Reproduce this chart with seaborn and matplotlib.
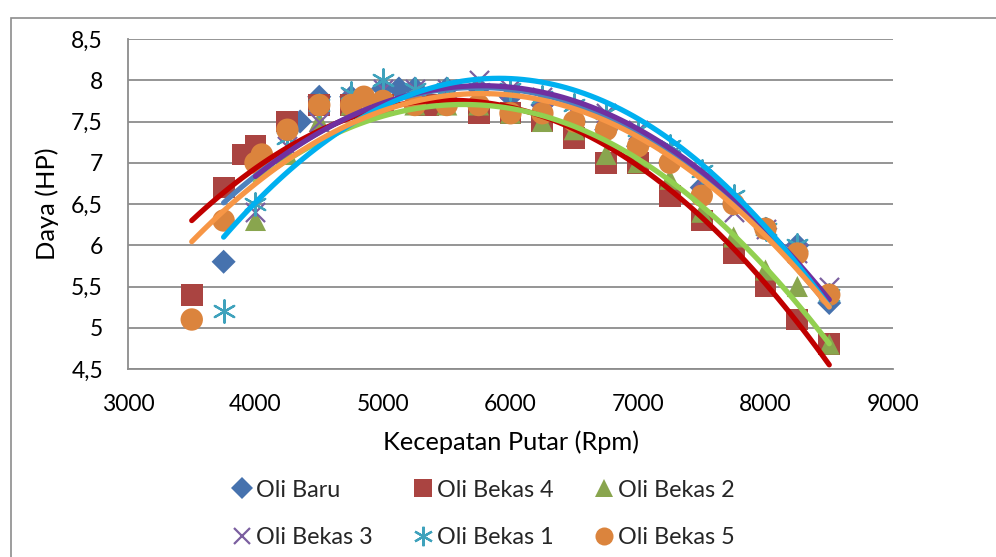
import numpy as np
import pandas as pd
import seaborn as sns
import matplotlib
matplotlib.use("Agg")
import matplotlib.pyplot as plt
from matplotlib.patches import Rectangle
from matplotlib.lines import Line2D

# Engine power (HP) against engine speed (rpm) for each oil condition
baru_rpm = [3750, 4350, 4500, 4750, 5000, 5125, 5250, 5500, 5750, 6000, 6250, 6500,
            6750, 7000, 7250, 7500, 7750, 8000, 8250, 8500]
baru_hp = [5.8, 7.5, 7.8, 7.8, 7.9, 7.9, 7.9, 7.9, 7.9, 7.8, 7.7, 7.5,
           7.4, 7.2, 7.0, 6.7, 6.5, 6.2, 6.0, 5.3]

bekas4_rpm = [3500, 3750, 3900, 4000, 4250, 4500, 4750, 5000, 5350, 5750, 6000, 6250,
              6500, 6750, 7000, 7250, 7500, 7750, 8000, 8250, 8500]
bekas4_hp = [5.4, 6.7, 7.1, 7.2, 7.5, 7.7, 7.7, 7.7, 7.7, 7.6, 7.6, 7.5,
             7.3, 7.0, 7.0, 6.6, 6.3, 5.9, 5.5, 5.1, 4.8]

bekas2_rpm = [4000, 4250, 4500, 4750, 5000, 5250, 5500, 5750, 6000, 6250, 6500, 6750,
              7000, 7250, 7500, 7750, 8000, 8250, 8500]
bekas2_hp = [6.3, 7.1, 7.5, 7.7, 7.7, 7.7, 7.7, 7.7, 7.6, 7.5, 7.4, 7.1,
             7.0, 6.8, 6.4, 6.1, 5.7, 5.5, 4.8]

bekas3_rpm = [4000, 4250, 4500, 4750, 5000, 5250, 5500, 5750, 6000, 6250, 6500, 6750,
              7000, 7250, 7500, 7750, 8000, 8250, 8500]
bekas3_hp = [6.4, 7.2, 7.5, 7.8, 7.9, 7.9, 7.9, 8.0, 7.9, 7.8, 7.6, 7.6,
             7.4, 7.1, 6.8, 6.4, 6.2, 5.9, 5.5]

bekas1_rpm = [3750, 4000, 4250, 4500, 4750, 5000, 5250, 5500, 5750, 6000, 6250, 6500,
              6750, 7000, 7250, 7500, 7750, 8000, 8250, 8500]
bekas1_hp = [5.2, 6.5, 7.3, 7.7, 7.85, 8.0, 7.9, 7.9, 7.9, 7.9, 7.8, 7.7,
             7.6, 7.4, 7.2, 6.9, 6.6, 6.2, 6.0, 5.4]

bekas5_rpm = [3500, 3750, 4000, 4050, 4250, 4500, 4750, 4850, 5000, 5250, 5500, 5750,
              6000, 6250, 6500, 6750, 7000, 7250, 7500, 7750, 8000, 8250, 8500]
bekas5_hp = [5.1, 6.3, 7.0, 7.1, 7.4, 7.7, 7.7, 7.8, 7.75, 7.7, 7.7, 7.7,
             7.6, 7.6, 7.5, 7.4, 7.2, 7.0, 6.6, 6.5, 6.2, 5.9, 5.4]

series_names = ["Oli Baru", "Oli Bekas 4", "Oli Bekas 2", "Oli Bekas 3", "Oli Bekas 1", "Oli Bekas 5"]
series_rpm = [baru_rpm, bekas4_rpm, bekas2_rpm, bekas3_rpm, bekas1_rpm, bekas5_rpm]
series_hp = [baru_hp, bekas4_hp, bekas2_hp, bekas3_hp, bekas1_hp, bekas5_hp]

x_ticks = [3000, 4000, 5000, 6000, 7000, 8000, 9000]
y_ticks = [4.5, 5, 5.5, 6, 6.5, 7, 7.5, 8, 8.5]
y_tick_labels = ["4,5", "5", "5,5", "6", "6,5", "7", "7,5", "8", "8,5"]

marker_style = {
    "Oli Baru":    dict(marker="D", color="#4672AE", s=150, lw=0),
    "Oli Bekas 4": dict(marker="s", color="#AA4441", s=250, lw=0),
    "Oli Bekas 2": dict(marker="^", color="#89A54E", s=230, lw=0),
    "Oli Bekas 3": dict(marker="x", color="#7B5FA0", s=190, lw=1.6),
    "Oli Bekas 1": dict(marker=(6, 2, 0), color="#3FA2BC", s=260, lw=1.6),
    "Oli Bekas 5": dict(marker="o", color="#DB843D", s=260, lw=0),
}
trend_color = {
    "Oli Baru": "#4F81BD",
    "Oli Bekas 4": "#C00000",
    "Oli Bekas 2": "#92D050",
    "Oli Bekas 3": "#7030A0",
    "Oli Bekas 1": "#00B0F0",
    "Oli Bekas 5": "#F79646",
}
trend_order = ["Oli Baru", "Oli Bekas 4", "Oli Bekas 2", "Oli Bekas 3", "Oli Bekas 1", "Oli Bekas 5"]

df = pd.concat(
    [pd.DataFrame({"rpm": r, "hp": h, "oli": n}) for n, r, h in zip(series_names, series_rpm, series_hp)],
    ignore_index=True,
)

sns.set_theme(style="white")
plt.rcParams["font.family"] = ["Lato", "DejaVu Sans"]

fig = plt.figure(figsize=(9.96, 5.57), dpi=100)
ax = fig.add_axes([128 / 996, 1 - 369 / 557, (893 - 128) / 996, (369 - 39) / 557])

# markers for each series
for name in series_names:
    sub = df[df["oli"] == name]
    st = marker_style[name]
    sns.scatterplot(data=sub, x="rpm", y="hp", ax=ax, marker=st["marker"], s=st["s"],
                    color=st["color"], linewidth=st["lw"], edgecolor=st["color"] if st["lw"] else "none",
                    zorder=3, legend=False)

# second-order polynomial trend lines
for name in trend_order:
    sub = df[df["oli"] == name]
    sns.regplot(data=sub, x="rpm", y="hp", order=2, ci=None, scatter=False, truncate=True, ax=ax,
                line_kws=dict(color=trend_color[name], lw=3.8, solid_capstyle="round", zorder=4))

ax.set_xlim(3000, 9000)
ax.set_ylim(4.5, 8.5)
ax.set_xticks(x_ticks)
ax.set_yticks(y_ticks)
ax.set_yticklabels(y_tick_labels)
ax.yaxis.grid(True, color="#8C8C8C", lw=1.3)
ax.xaxis.grid(False)
ax.set_axisbelow(True)
for side in ["top", "right"]:
    ax.spines[side].set_visible(False)
for side in ["left", "bottom"]:
    ax.spines[side].set_color("#8C8C8C")
    ax.spines[side].set_linewidth(1.3)
ax.tick_params(axis="both", which="major", direction="out", length=5, width=1.3, color="#8C8C8C",
               labelsize=16.5, labelcolor="black")
ax.tick_params(axis="x", pad=13)
ax.tick_params(axis="y", pad=13)
ax.set_xlabel("Kecepatan Putar (Rpm)", fontsize=18.3, color="black", labelpad=11)
ax.set_ylabel("Daya (HP)", fontsize=18.3, color="black", labelpad=9)

# legend: three columns, two rows
handles = {}
for name in series_names:
    st = marker_style[name]
    ms = {"D": 11, "s": 13, "^": 13, "x": 11, "o": 13}.get(st["marker"], 14)
    handles[name] = Line2D([], [], ls="none", marker=st["marker"], markersize=ms,
                           color=st["color"], markeredgewidth=st["lw"] if st["lw"] else 0)
legend_order = ["Oli Baru", "Oli Bekas 3", "Oli Bekas 4", "Oli Bekas 1", "Oli Bekas 2", "Oli Bekas 5"]
fig.legend([handles[n] for n in legend_order], legend_order, loc="center",
           bbox_to_anchor=(484 / 996, 1 - 514 / 557), ncol=3, frameon=False, fontsize=16.8,
           handlelength=0.7, handletextpad=0.25, columnspacing=1.8, labelspacing=1.15)

# chart area outline
fig.patches.append(Rectangle((11 / 996, -0.05), 1.1, 1 - 18 / 557 + 0.05, transform=fig.transFigure,
                             fill=False, edgecolor="#8C8C8C", lw=1.2))

fig.savefig("out.png", dpi=100)
